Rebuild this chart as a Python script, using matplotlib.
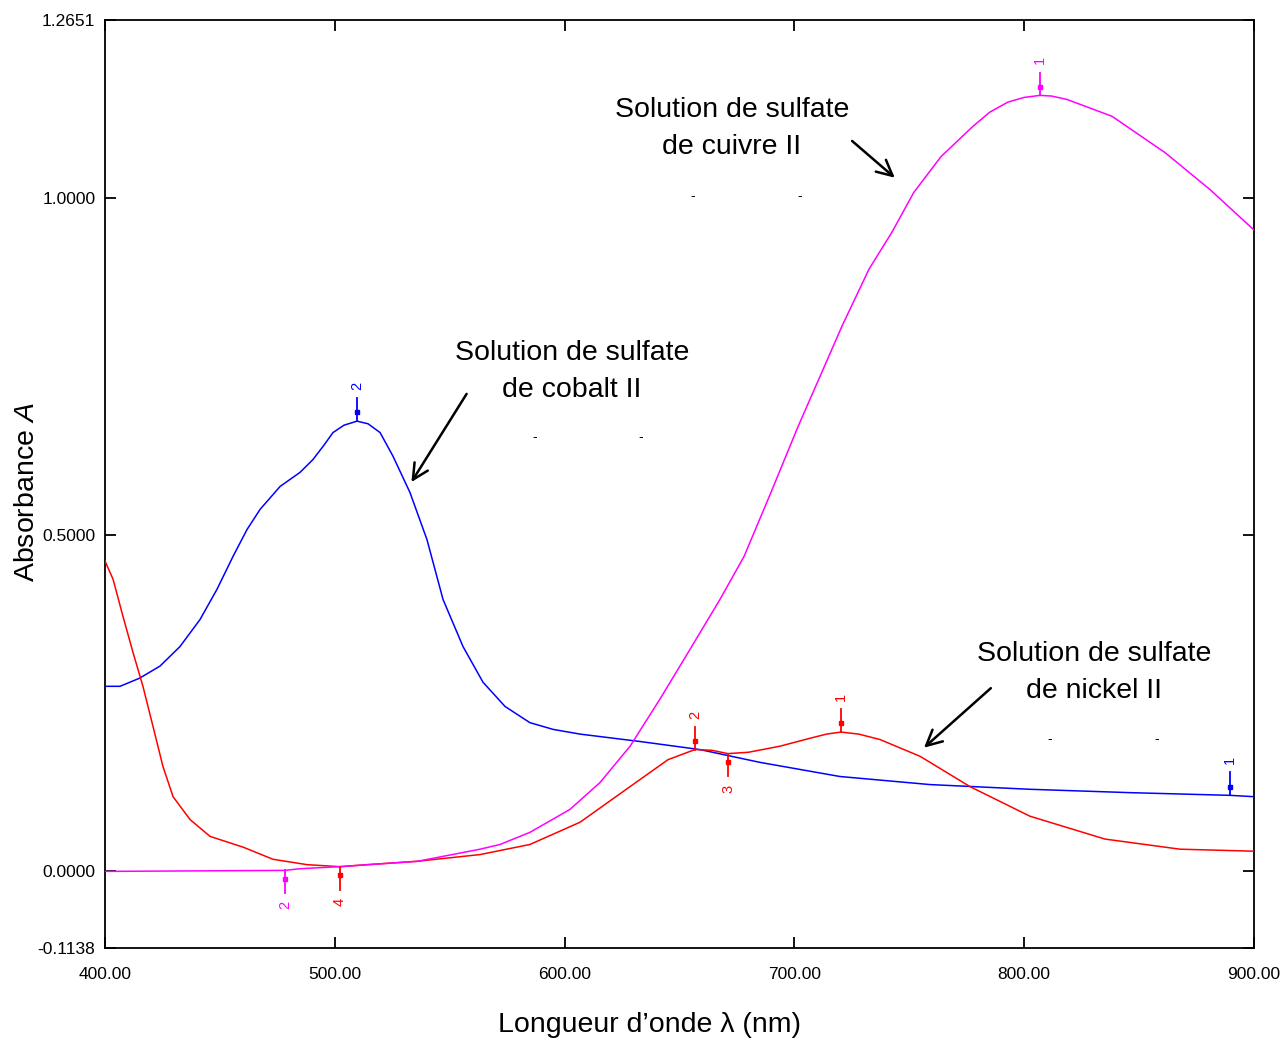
#/usr/bin/python3

import matplotlib
matplotlib.use('Agg')
import matplotlib.pyplot as plt

""" END IMPORTS """

# spectra: wavelength (nm) and absorbance

cobalt_nm = [400.0, 406.5, 415.0, 423.9, 432.6, 441.3, 448.7, 455.7, 461.8, 467.5,
             476.2, 484.9, 490.5, 495.0, 499.2, 504.0, 509.7, 514.5, 519.7, 525.3,
             532.7, 540.1, 547.1, 555.8, 564.5, 574.1, 584.9, 595.0, 606.7, 632.8,
             658.9, 685.0, 719.8, 759.0, 802.5, 846.0, 889.6, 900.0]
cobalt_A = [0.275, 0.275, 0.287, 0.305, 0.334, 0.374, 0.419, 0.468, 0.508, 0.538,
            0.572, 0.593, 0.612, 0.632, 0.652, 0.663, 0.669, 0.665, 0.652, 0.617,
            0.563, 0.493, 0.404, 0.334, 0.281, 0.245, 0.221, 0.211, 0.204, 0.193,
            0.181, 0.162, 0.141, 0.129, 0.122, 0.117, 0.113, 0.111]

nickel_nm = [400.0, 403.5, 407.8, 412.2, 416.5, 420.9, 425.2, 429.6, 437.0, 445.7,
             460.1, 473.1, 487.9, 502.3, 514.0, 535.8, 563.2, 584.9, 606.7, 628.5,
             645.0, 656.7, 664.0, 671.1, 680.0, 693.7, 707.0, 714.0, 720.3, 728.0,
             737.2, 754.7, 776.4, 802.5, 835.2, 867.8, 900.0]
nickel_A = [0.461, 0.434, 0.379, 0.325, 0.275, 0.215, 0.156, 0.111, 0.077, 0.052,
            0.036, 0.018, 0.010, 0.007, 0.010, 0.015, 0.025, 0.040, 0.073, 0.126,
            0.166, 0.181, 0.180, 0.175, 0.177, 0.186, 0.198, 0.204, 0.207, 0.204,
            0.196, 0.171, 0.126, 0.082, 0.048, 0.033, 0.030]

copper_nm = [400.0, 478.3, 485.0, 502.0, 536.0, 563.2, 571.9, 584.9, 602.3, 615.4,
             628.5, 641.5, 654.6, 667.6, 678.1, 689.8, 701.6, 711.1, 720.7, 732.5,
             742.5, 752.0, 763.8, 777.7, 785.0, 792.9, 800.0, 806.9, 812.0, 818.6,
             838.2, 861.3, 880.9, 900.0]
copper_A = [0.0, 0.0015, 0.004, 0.007, 0.015, 0.033, 0.040, 0.058, 0.092, 0.132,
            0.186, 0.256, 0.330, 0.404, 0.468, 0.563, 0.661, 0.735, 0.810, 0.895,
            0.950, 1.009, 1.062, 1.107, 1.128, 1.143, 1.150, 1.153, 1.152, 1.147,
            1.122, 1.068, 1.013, 0.953]

# peak picks: wavelength, absorbance, number, marker above (+1) or below (-1)

cobalt_peaks_nm = [889.6, 509.7]
cobalt_peaks_A = [0.113, 0.669]
cobalt_peaks_id = ['1', '2']
cobalt_peaks_side = [1, 1]

nickel_peaks_nm = [720.3, 656.7, 671.1, 502.3]
nickel_peaks_A = [0.207, 0.181, 0.175, 0.007]
nickel_peaks_id = ['1', '2', '3', '4']
nickel_peaks_side = [1, 1, -1, -1]

copper_peaks_nm = [806.9, 478.3]
copper_peaks_A = [1.153, 0.0015]
copper_peaks_id = ['1', '2']
copper_peaks_side = [1, -1]

x_ticks = [400, 500, 600, 700, 800, 900]
y_ticks = [-0.1138, 0.0, 0.5, 1.0, 1.2651]

# fonts

plt.rcParams['font.family'] = ['Liberation Sans', 'DejaVu Sans']
plt.rcParams['mathtext.fontset'] = 'custom'
plt.rcParams['mathtext.rm'] = 'Liberation Sans'
plt.rcParams['mathtext.it'] = 'Liberation Sans:italic'

xlabel = 'Longueur d\u2019onde \u03bb (nm)'
ylabel = 'Absorbance $A$'
filename = 'out.png'

# Plot

fig = plt.figure(figsize=(12.84, 10.39), dpi=100)
ax = fig.add_axes([0.0818, 0.0876, 0.8948, 0.8932])

series = [
    (cobalt_nm, cobalt_A, '#0000ff', cobalt_peaks_nm, cobalt_peaks_A, cobalt_peaks_id, cobalt_peaks_side),
    (nickel_nm, nickel_A, '#ff0000', nickel_peaks_nm, nickel_peaks_A, nickel_peaks_id, nickel_peaks_side),
    (copper_nm, copper_A, '#ff00ff', copper_peaks_nm, copper_peaks_A, copper_peaks_id, copper_peaks_side),
]

for nm, A, col, pk_nm, pk_A, pk_id, pk_side in series:
    ax.plot(nm, A, color=col, lw=1.1, zorder=3)
    # peak picks: short stem, small square, rotated number
    for x, y, lab, s in zip(pk_nm, pk_A, pk_id, pk_side):
        ax.plot([x, x], [y, y + s * 0.034], color=col, lw=1.3, zorder=4)
        ax.plot(x, y + s * 0.013, marker='s', ms=3.5, color=col, zorder=4)
        ax.text(x, y + s * 0.052, lab, color=col, fontsize=10.5, rotation=90,
                ha='center', va='center', zorder=4)

# annotations with arrows

arrow = dict(arrowstyle='->', color='black', lw=1.8, mutation_scale=28)
note_kw = dict(fontsize=20.5, ha='center', va='center', linespacing=1.55)

ax.text(672.8, 1.104, 'Solution de sulfate\nde cuivre II', **note_kw)
ax.annotate('', xy=(744.6, 1.028), xytext=(724.2, 1.088), arrowprops=arrow)

ax.text(603.2, 0.743, 'Solution de sulfate\nde cobalt II', **note_kw)
ax.annotate('', xy=(532.7, 0.575), xytext=(558.0, 0.713), arrowprops=arrow)

ax.text(830.4, 0.296, 'Solution de sulfate\nde nickel II', **note_kw)
ax.annotate('', xy=(755.5, 0.181), xytext=(786.4, 0.275), arrowprops=arrow)

# small stray dashes left under the labels in the original
for dx, dy in [(655.9, 1.003), (702.4, 1.003), (587.1, 0.645),
               (633.2, 0.645), (811.2, 0.196), (857.8, 0.196)]:
    ax.text(dx, dy, '-', fontsize=10, ha='center', va='center')

# axes, ticks, labels

ax.set_xlim(400, 900)
ax.set_ylim(-0.1138, 1.2651)
ax.set_xticks(x_ticks)
ax.set_xticklabels(['%.2f' % v for v in x_ticks])
ax.set_yticks(y_ticks)
ax.set_yticklabels(['%.4f' % v for v in y_ticks])

ax.tick_params(direction='in', which='both', top=True, right=True,
               length=8, width=1.3, labelsize=12.5)
ax.tick_params(axis='x', pad=14)
ax.tick_params(axis='y', pad=7)
for sp in ax.spines.values():
    sp.set_linewidth(1.3)

ax.set_xlabel(xlabel, fontsize=20.5)
ax.set_ylabel(ylabel, fontsize=20.5)
ax.xaxis.set_label_coords(0.474, -0.069)
ax.yaxis.set_label_coords(-0.057, 0.491)

# Save the plot

fig.savefig(filename, dpi=100)
